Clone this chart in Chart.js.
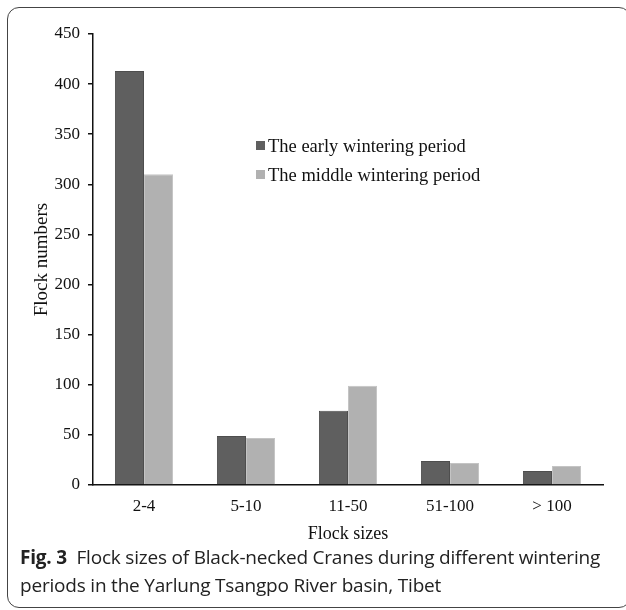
<!DOCTYPE html>
<html>
<head>
<meta charset="utf-8">
<script src="https://cdn.jsdelivr.net/npm/chart.js@4.4.1/dist/chart.umd.min.js"></script>
<style>
  html, body { margin: 0; padding: 0; background: #fff; overflow: hidden; }
  body { width: 626px; height: 610px; position: relative; }
  #frame {
    position: absolute; left: 7px; top: 7px; width: 624px; height: 601px;
    border: 1px solid #444; border-radius: 12px; box-sizing: border-box;
  }
  #wrap { position: absolute; left: 0; top: 0; width: 626px; height: 545px; }
  .cap {
    position: absolute; left: 20px; font-family: "Open Sans", sans-serif;
    font-size: 19px; color: #222; white-space: nowrap; letter-spacing: -0.2px;
  }
  .cap b { font-weight: 700; }
</style>
</head>
<body>
<div id="frame"></div>
<div id="wrap"><canvas id="chart" width="626" height="545"></canvas></div>
<div class="cap" style="top:544px"><b>Fig. 3</b>&nbsp; Flock sizes of Black-necked Cranes during different wintering</div>
<div class="cap" style="top:572px">periods in the Yarlung Tsangpo River basin, Tibet</div>
<script>
// data
const flockSizes = ["2-4", "5-10", "11-50", "51-100", "> 100"];
const earlyWinter = [413, 49, 74, 24, 14];
const middleWinter = [310, 47, 99, 22, 19];
const seriesNames = ["The early wintering period", "The middle wintering period"];
const yTicks = [0, 50, 100, 150, 200, 250, 300, 350, 400, 450];

const serif = "'Liberation Serif', 'Times New Roman', serif";

// legend drawn inside the plot, like the original
const insideLegend = {
  id: "insideLegend",
  afterDraw(chart) {
    const ctx = chart.ctx;
    ctx.save();
    ctx.font = "18.5px " + serif;
    ctx.textBaseline = "middle";
    chart.data.datasets.forEach((ds, i) => {
      const y = 146 + i * 29;
      ctx.fillStyle = ds.backgroundColor;
      ctx.fillRect(256, y - 5, 9, 9);
      ctx.fillStyle = "#111";
      ctx.fillText(ds.label, 268, y + 1);
    });
    ctx.restore();
  }
};

new Chart(document.getElementById("chart"), {
  type: "bar",
  data: {
    labels: flockSizes,
    datasets: [
      { label: seriesNames[0], data: earlyWinter, backgroundColor: "#5f5f5f",
        borderColor: "#4e4e4e", borderWidth: 1 },
      { label: seriesNames[1], data: middleWinter, backgroundColor: "#b1b1b1",
        borderColor: "#c4c4c4", borderWidth: 1 }
    ]
  },
  options: {
    responsive: false,
    animation: false,
    layout: { padding: { top: 34, right: 23, bottom: 0, left: 0 } },
    plugins: { legend: { display: false }, tooltip: { enabled: false } },
    datasets: { bar: { barPercentage: 1, categoryPercentage: 0.57 } },
    scales: {
      x: {
        grid: { display: false, drawTicks: false },
        border: { display: true, color: "#111", width: 1.5 },
        ticks: { color: "#111", font: { family: serif, size: 17 }, padding: 11 },
        title: { display: true, text: "Flock sizes", color: "#111",
                 font: { family: serif, size: 18 }, padding: { top: 0, bottom: 0 } },
        afterFit(s) { s.height = 60; }
      },
      y: {
        min: 0, max: 450,
        afterBuildTicks(s) { s.ticks = yTicks.map(v => ({ value: v })); },
        grid: { drawOnChartArea: false, drawTicks: true, tickLength: 5, color: "#111", lineWidth: 1.5 },
        border: { display: true, color: "#111", width: 1.5 },
        ticks: { color: "#111", font: { family: serif, size: 17 }, padding: 8 },
        title: { display: true, text: "Flock numbers", color: "#111",
                 font: { family: serif, size: 19 }, padding: { top: 31, bottom: 0 } },
        afterFit(s) { s.width = 93; }
      }
    }
  },
  plugins: [insideLegend]
});
</script>
</body>
</html>
